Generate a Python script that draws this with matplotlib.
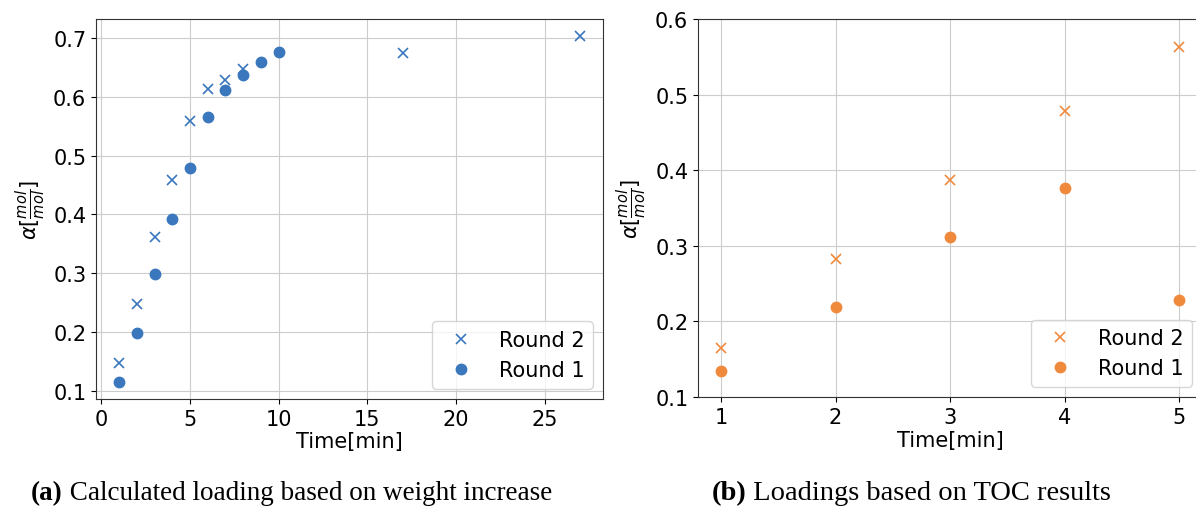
import numpy as np
import matplotlib.pyplot as plt

# left panel: loading from weight increase
t_r2_a = [1, 2, 3, 4, 5, 6, 7, 8, 17, 27]
load_r2_a = [0.147, 0.247, 0.362, 0.459, 0.559, 0.613, 0.628, 0.647, 0.674, 0.703]
t_r1_a = [1, 2, 3, 4, 5, 6, 7, 8, 9, 10]
load_r1_a = [0.115, 0.198, 0.298, 0.392, 0.479, 0.565, 0.612, 0.637, 0.660, 0.676]

# right panel: loading from TOC
t_b = [1, 2, 3, 4, 5]
load_r2_b = [0.165, 0.282, 0.387, 0.479, 0.563]
load_r1_b = [0.134, 0.219, 0.312, 0.377, 0.228]

blue = '#3a77bd'
orange = '#ef8a3d'
fs = 15
ylab = r'$\alpha[\frac{mol}{mol}]$'

fig = plt.figure(figsize=(11.96, 5.10), dpi=100)

ax1 = fig.add_axes([0.0803, 0.2157, 0.4239, 0.745])
ax1.plot(t_r2_a, load_r2_a, 'x', color=blue, ms=7, mew=1.2, label='Round 2')
ax1.plot(t_r1_a, load_r1_a, 'o', color=blue, ms=7.5, label='Round 1')
ax1.set_xticks([0, 5, 10, 15, 20, 25])
ax1.set_yticks([0.1, 0.2, 0.3, 0.4, 0.5, 0.6, 0.7])

ax2 = fig.add_axes([0.5836, 0.2196, 0.4216, 0.741])
ax2.plot(t_b, load_r2_b, 'x', color=orange, ms=7, mew=1.2, label='Round 2')
ax2.plot(t_b, load_r1_b, 'o', color=orange, ms=7.5, label='Round 1')
ax2.set_ylim(0.1, 0.6)
ax2.set_xticks([1, 2, 3, 4, 5])

for ax in (ax1, ax2):
    ax.grid(True, color='#cccccc')
    ax.set_axisbelow(True)
    ax.set_xlabel('Time[min]', fontsize=fs, labelpad=2)
    ax.set_ylabel(ylab, fontsize=fs)
    ax.tick_params(labelsize=fs)
    for s in ax.spines.values():
        s.set_color('#333333')
    ax.legend(loc='lower right', fontsize=fs)

# captions: bold tag followed by regular text
serif = 'Liberation Serif'
ta = fig.text(0.026, 0.008, '(a)', fontsize=19.5, fontweight='bold',
              family=serif, va='bottom')
ax1.annotate(' Calculated loading based on weight increase', xy=(1, 0),
             xycoords=ta, va='bottom', fontsize=19.5, family=serif,
             annotation_clip=False)
tb = fig.text(0.595, 0.008, '(b)', fontsize=20.5, fontweight='bold',
              family=serif, va='bottom')
ax2.annotate(' Loadings based on TOC results', xy=(1, 0), xycoords=tb,
             va='bottom', fontsize=20.5, family=serif,
             annotation_clip=False)

fig.savefig('out.png', dpi=100)
